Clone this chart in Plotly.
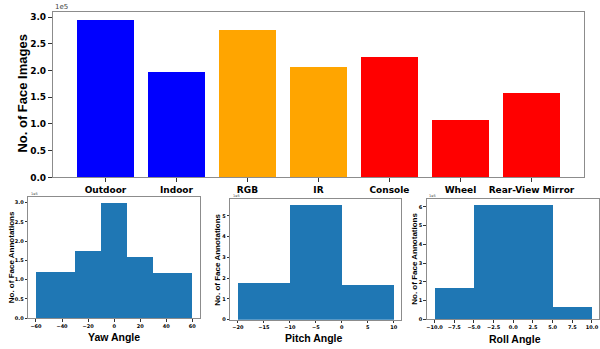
import numpy as np
import plotly.graph_objects as go

# ---------------- data ----------------
categories = ["Outdoor", "Indoor", "RGB", "IR", "Console", "Wheel", "Rear-View Mirror"]
image_counts = [295000, 197000, 276000, 206000, 226000, 108000, 158000]
bar_colors = ["blue", "blue", "orange", "orange", "red", "red", "red"]

yaw_edges = [-60, -30, -10, 10, 30, 60]
yaw_counts = [119000, 175000, 299000, 158000, 118000]

pitch_edges = [-20, -10, 0, 10]
pitch_counts = [179000, 552000, 167000]

roll_edges = [-10, -5, 5, 10]
roll_counts = [167000, 612000, 68000]

W, H = 600, 349
def px(x):
    return x / W
def py(y):
    return 1 - y / H

HIST = "#1f77b4"
TICKFONT = "DejaVu Sans"
TITLEFONT = "Liberation Sans"
SPINE = "#8c8c8c"

fig = go.Figure()

fig.add_trace(go.Bar(x=categories, y=image_counts, marker=dict(color=bar_colors, line=dict(width=0)),
                     width=0.8, xaxis="x", yaxis="y", showlegend=False, hoverinfo="skip"))

def hist_trace(edges, counts, ax):
    e = np.array(edges, dtype=float)
    centers = (e[:-1] + e[1:]) / 2
    widths = e[1:] - e[:-1]
    return go.Bar(x=centers, y=counts, width=widths, marker=dict(color=HIST, line=dict(width=0)),
                  xaxis="x" + ax, yaxis="y" + ax, showlegend=False, hoverinfo="skip")

fig.add_trace(hist_trace(yaw_edges, yaw_counts, "2"))
fig.add_trace(hist_trace(pitch_edges, pitch_counts, "3"))
fig.add_trace(hist_trace(roll_edges, roll_counts, "4"))

def axis_common(size, ticklen):
    return dict(showline=True, mirror=True, linecolor=SPINE, linewidth=1, showgrid=False, zeroline=False,
                ticks="outside", ticklen=ticklen, tickwidth=1, tickcolor="#333",
                tickfont=dict(family=TICKFONT, size=size, color="black", weight="bold"))

# top y ticks
tv = [i * 50000 for i in range(7)]
tt = ["%.1f" % (v / 1e5) for v in tv]

layout_axes = dict(
    xaxis=dict(domain=[px(53), px(585)], anchor="y", range=[-0.74, 6.74], **axis_common(9, 4)),
    yaxis=dict(domain=[py(180), py(12)], anchor="x", range=[0, max(image_counts) * 1.05],
               tickvals=tv, ticktext=tt, **axis_common(9, 4)),
)

# yaw
yv = [i * 50000 for i in range(7)]
layout_axes["xaxis2"] = dict(domain=[px(28.2), px(200.5)], anchor="y2", range=[-66, 66],
                             tickvals=list(range(-60, 61, 20)), **axis_common(5, 2.5))
layout_axes["yaxis2"] = dict(domain=[py(322.7), py(200)], anchor="x2", range=[0, max(yaw_counts) * 1.05],
                             tickvals=yv, ticktext=["%.1f" % (v / 1e5) for v in yv], **axis_common(5, 2.5))
# pitch
pv = [i * 100000 for i in range(6)]
layout_axes["xaxis3"] = dict(domain=[px(230.5), px(402.1)], anchor="y3", range=[-21.5, 11.5],
                             tickvals=list(range(-20, 11, 5)), **axis_common(5, 2.5))
layout_axes["yaxis3"] = dict(domain=[py(324.3), py(202.3)], anchor="x3", range=[0, max(pitch_counts) * 1.05],
                             tickvals=pv, ticktext=["%d" % (v / 1e5) for v in pv], **axis_common(5, 2.5))
# roll
rv = [i * 100000 for i in range(7)]
rx = list(np.arange(-10, 10.01, 2.5))
layout_axes["xaxis4"] = dict(domain=[px(427.4), 1.0], anchor="y4", range=[-11, 10.89],
                             tickvals=rx, ticktext=[("%.1f" % v).replace("-", "\u2212") for v in rx],
                             **axis_common(5, 2.5))
layout_axes["yaxis4"] = dict(domain=[py(324), py(201.7)], anchor="x4", range=[0, max(roll_counts) * 1.05],
                             tickvals=rv, ticktext=["%d" % (v / 1e5) for v in rv], **axis_common(5, 2.5))

def ann(text, x, y, size, family=TITLEFONT, angle=0, color="black", bold=True, xanchor="center", yanchor="middle"):
    return dict(text=("<b>%s</b>" % text) if bold else text, x=px(x), y=py(y), xref="paper", yref="paper",
                showarrow=False, textangle=angle, xanchor=xanchor, yanchor=yanchor,
                font=dict(family=family, size=size, color=color))

annotations = [
    ann("No. of Face Images", 23, 95, 13, angle=-90),
    ann("1e5", 53, 7, 7, family=TICKFONT, color="#444", bold=False, xanchor="left"),
    ann("No. of Face Annotations", 11, 261, 8, angle=-90),
    ann("No. of Face Annotations", 218.3, 263.5, 8, angle=-90),
    ann("No. of Face Annotations", 415.7, 262.5, 8, angle=-90),
    ann("Yaw Angle", 114.3, 342, 10.5),
    ann("Pitch Angle", 315, 343, 10.5),
    ann("Roll Angle", 516, 344, 10.5),
    ann("1e5", 29, 197, 3.5, family=TICKFONT, color="#444", bold=False, xanchor="left"),
    ann("1e5", 231, 199, 3.5, family=TICKFONT, color="#444", bold=False, xanchor="left"),
    ann("1e5", 428, 199, 3.5, family=TICKFONT, color="#444", bold=False, xanchor="left"),
]

fig.update_layout(width=W, height=H, margin=dict(l=0, r=0, t=0, b=0),
                  paper_bgcolor="white", plot_bgcolor="white", bargap=0, hovermode=False,
                  annotations=annotations, **layout_axes)

fig.write_html("out.html", config={"displayModeBar": False, "staticPlot": True},
               post_script="document.body.style.margin='0';document.body.style.padding='0';"
                           "document.body.style.overflow='hidden';")
